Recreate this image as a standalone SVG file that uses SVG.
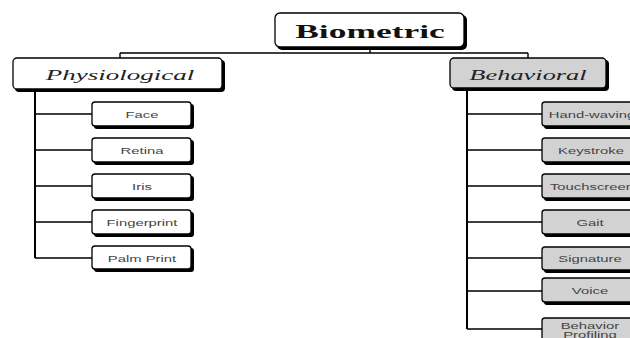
<svg xmlns="http://www.w3.org/2000/svg" width="630" height="338" viewBox="0 0 630 338">
<style>
.sh{fill:#000}
.bx{stroke:#000;stroke-width:1.3}
.w{fill:#fff}
.g{fill:#d2d2d2}
.ln{stroke:#000;stroke-width:1.4;fill:none}
.tr{stroke:#000;stroke-width:2;fill:none}
.t{font-family:"Liberation Sans",Arial,sans-serif;font-size:9px;fill:#444;text-anchor:middle}
.h{font-family:"Liberation Serif","Times New Roman",serif;font-size:15px;font-style:italic;fill:#222;text-anchor:middle}
.r{font-family:"Liberation Serif","Times New Roman",serif;font-size:18px;font-weight:bold;fill:#111;text-anchor:middle}
</style>
<g id="connectors">
<path class="ln" d="M370 48V53M120 53H528M120 53V58M528 53V58"/>
<path class="tr" d="M35 90V258M467 89V329"/>
<path class="ln" d="M35 114H92M35 150H92M35 186H92M35 222H92M35 258H92"/>
<path class="ln" d="M467 114H542M467 150H542M467 186H542M467 222H542M467 258H542M467 291H542M467 329H542"/>
</g>
<g id="biometric">
<rect class="sh" x="277" y="15" width="190" height="35" rx="5"/>
<rect class="bx w" x="275" y="13" width="189" height="34" rx="5"/>
<text class="r" transform="translate(370,38) scale(1.97,1)">Biometric</text>
</g>
<g id="physiological">
<rect class="sh" x="15" y="60" width="210" height="32" rx="4"/>
<rect class="bx w" x="13" y="58" width="209" height="31" rx="4"/>
<text class="h" transform="translate(120,80) scale(1.8,1)">Physiological</text>
</g>
<g id="behavioral">
<rect class="sh" x="452" y="60" width="157" height="31" rx="4"/>
<rect class="bx g" x="450" y="58" width="156" height="30" rx="4"/>
<text class="h" transform="translate(528,80) scale(1.76,1)">Behavioral</text>
</g>
<g id="face"><rect class="sh" x="94" y="104" width="100" height="25" rx="3"/><rect class="bx w" x="92" y="102" width="99" height="24" rx="3"/><text class="t" transform="translate(142,118) scale(1.65,1)">Face</text></g>
<g id="retina"><rect class="sh" x="94" y="140" width="100" height="25" rx="3"/><rect class="bx w" x="92" y="138" width="99" height="24" rx="3"/><text class="t" transform="translate(142,153.5) scale(1.65,1)">Retina</text></g>
<g id="iris"><rect class="sh" x="94" y="176" width="100" height="25" rx="3"/><rect class="bx w" x="92" y="174" width="99" height="24" rx="3"/><text class="t" transform="translate(142,189.5) scale(1.65,1)">Iris</text></g>
<g id="fingerprint"><rect class="sh" x="94" y="212" width="100" height="25" rx="3"/><rect class="bx w" x="92" y="210" width="99" height="24" rx="3"/><text class="t" transform="translate(142,225.5) scale(1.65,1)">Fingerprint</text></g>
<g id="palmprint"><rect class="sh" x="94" y="248" width="100" height="24" rx="3"/><rect class="bx w" x="92" y="246" width="99" height="23" rx="3"/><text class="t" transform="translate(142,261.5) scale(1.65,1)">Palm Print</text></g>
<g id="handwaving"><rect class="sh" x="544" y="104" width="100" height="25" rx="3"/><rect class="bx g" x="542" y="102" width="99" height="24" rx="3"/><text class="t" transform="translate(592,118) scale(1.65,1)">Hand-waving</text></g>
<g id="keystroke"><rect class="sh" x="544" y="140" width="100" height="25" rx="3"/><rect class="bx g" x="542" y="138" width="99" height="24" rx="3"/><text class="t" transform="translate(591,153.5) scale(1.65,1)">Keystroke</text></g>
<g id="touchscreen"><rect class="sh" x="544" y="176" width="100" height="25" rx="3"/><rect class="bx g" x="542" y="174" width="99" height="24" rx="3"/><text class="t" transform="translate(592,189.5) scale(1.65,1)">Touchscreen</text></g>
<g id="gait"><rect class="sh" x="544" y="212" width="100" height="25" rx="3"/><rect class="bx g" x="542" y="210" width="99" height="24" rx="3"/><text class="t" transform="translate(590,225.5) scale(1.65,1)">Gait</text></g>
<g id="signature"><rect class="sh" x="544" y="249" width="100" height="24" rx="3"/><rect class="bx g" x="542" y="247" width="99" height="23" rx="3"/><text class="t" transform="translate(590,262) scale(1.65,1)">Signature</text></g>
<g id="voice"><rect class="sh" x="544" y="280" width="100" height="25" rx="3"/><rect class="bx g" x="542" y="278" width="99" height="24" rx="3"/><text class="t" transform="translate(590,294) scale(1.65,1)">Voice</text></g>
<g id="behaviorprofiling"><rect class="sh" x="544" y="320" width="100" height="30" rx="3"/><rect class="bx g" x="542" y="318" width="99" height="29" rx="3"/><text class="t" transform="translate(590,329) scale(1.65,1)">Behavior</text><text class="t" transform="translate(590,338) scale(1.65,1)">Profiling</text></g>
</svg>
